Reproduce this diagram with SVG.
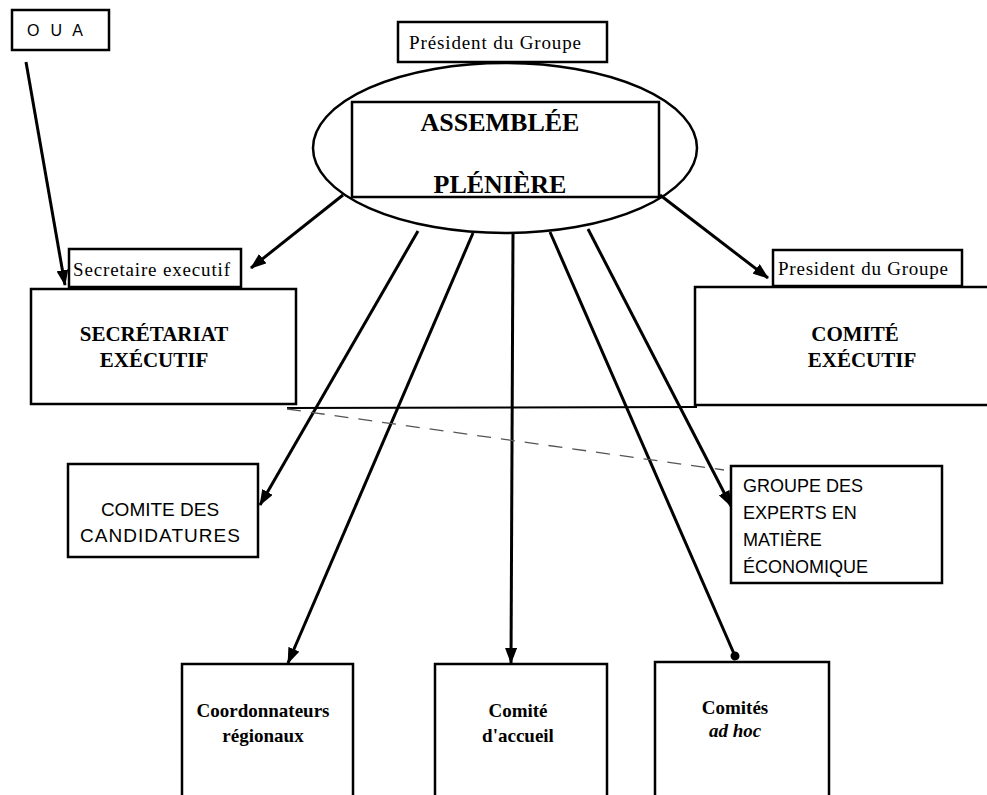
<svg xmlns="http://www.w3.org/2000/svg" width="987" height="795" viewBox="0 0 987 795">
<style>
.box{fill:#fff;stroke:#000;stroke-width:2.5}
.ln{stroke:#000;stroke-width:3;fill:none}
.serif{font-family:"Liberation Serif","Times New Roman",serif;fill:#000}
.sans{font-family:"Liberation Sans",Arial,sans-serif;fill:#000}
.b{font-weight:bold}
.c{text-anchor:middle}
</style>
<defs>
<marker id="arr" markerUnits="userSpaceOnUse" markerWidth="16" markerHeight="12" refX="15" refY="6" orient="auto">
<path d="M0,0 L16,6 L0,12 z" fill="#000"/>
</marker>
<marker id="dot" markerUnits="userSpaceOnUse" markerWidth="10" markerHeight="10" refX="5" refY="5" orient="auto">
<circle cx="5" cy="5" r="4.5" fill="#000"/>
</marker>
</defs>
<rect width="987" height="795" fill="#fff"/>

<g id="connectors">
<line class="ln" x1="26" y1="62" x2="65" y2="285" marker-end="url(#arr)"/>
<line class="ln" x1="343" y1="195" x2="251" y2="268" marker-end="url(#arr)"/>
<line class="ln" x1="660" y1="195" x2="768" y2="278" marker-end="url(#arr)"/>
<line class="ln" x1="418" y1="231" x2="260" y2="505" marker-end="url(#arr)"/>
<line class="ln" x1="473" y1="233" x2="288" y2="663" marker-end="url(#arr)"/>
<line class="ln" x1="513" y1="232" x2="511" y2="663" marker-end="url(#arr)"/>
<line class="ln" x1="550" y1="232" x2="735" y2="656" marker-end="url(#dot)"/>
<line class="ln" x1="588" y1="229" x2="731" y2="506" marker-end="url(#arr)"/>
<line x1="287" y1="408" x2="697" y2="407" stroke="#000" stroke-width="2"/>
<line x1="287" y1="409" x2="724" y2="470" stroke="#555" stroke-width="1.3" stroke-dasharray="14,10"/>
</g>

<g id="oua">
<rect class="box" x="12" y="10" width="97" height="40"/>
<text class="sans" x="27" y="36" font-size="16" textLength="56">O U A</text>
</g>

<g id="assemblee">
<ellipse cx="505" cy="148" rx="192" ry="85" fill="none" stroke="#000" stroke-width="2.5"/>
<rect x="352" y="102" width="307" height="95" fill="none" stroke="#000" stroke-width="2.5"/>
<text class="serif b c" x="500" y="131" font-size="26">ASSEMBLÉE</text>
<text class="serif b c" x="500" y="193" font-size="26">PLÉNIÈRE</text>
</g>

<g id="president-top">
<rect class="box" x="398" y="22" width="209" height="40"/>
<text class="serif" x="409" y="49" font-size="19" textLength="172">Président du Groupe</text>
</g>

<g id="secretariat">
<rect class="box" x="31" y="289" width="265" height="115"/>
<text class="serif b c" x="154" y="341" font-size="21">SECRÉTARIAT</text>
<text class="serif b c" x="154" y="367" font-size="21">EXÉCUTIF</text>
</g>

<g id="secretaire">
<rect class="box" x="69" y="249" width="172" height="38"/>
<text class="serif" x="73" y="276" font-size="19" textLength="157">Secretaire executif</text>
</g>

<g id="comite-executif">
<rect class="box" x="695" y="287" width="300" height="118"/>
<text class="serif b c" x="855" y="341" font-size="21">COMITÉ</text>
<text class="serif b c" x="862" y="367" font-size="21">EXÉCUTIF</text>
</g>

<g id="president-right">
<rect class="box" x="773" y="250" width="189" height="36"/>
<text class="serif" x="778" y="275" font-size="19" textLength="170">President du Groupe</text>
</g>

<g id="candidatures">
<rect class="box" x="68" y="464" width="190" height="93"/>
<text class="sans c" x="160" y="516" font-size="19">COMITE  DES</text>
<text class="sans c" x="160" y="542" font-size="19" textLength="160">CANDIDATURES</text>
</g>

<g id="experts">
<rect class="box" x="731" y="466" width="211" height="117"/>
<text class="sans" x="743" y="492" font-size="18">GROUPE DES</text>
<text class="sans" x="743" y="519" font-size="18">EXPERTS EN</text>
<text class="sans" x="743" y="546" font-size="18">MATIÈRE</text>
<text class="sans" x="743" y="573" font-size="18">ÉCONOMIQUE</text>
</g>

<g id="coordonnateurs">
<rect class="box" x="182" y="664" width="171" height="140"/>
<text class="serif b c" x="263" y="717" font-size="19">Coordonnateurs</text>
<text class="serif b c" x="263" y="742" font-size="19">régionaux</text>
</g>

<g id="accueil">
<rect class="box" x="435" y="664" width="172" height="140"/>
<text class="serif b c" x="518" y="717" font-size="19">Comité</text>
<text class="serif b c" x="518" y="742" font-size="19">d'accueil</text>
</g>

<g id="adhoc">
<rect class="box" x="655" y="662" width="174" height="142"/>
<text class="serif b c" x="735" y="714" font-size="19">Comités</text>
<text class="serif b c" x="735" y="737" font-size="19" font-style="italic">ad hoc</text>
</g>
</svg>
